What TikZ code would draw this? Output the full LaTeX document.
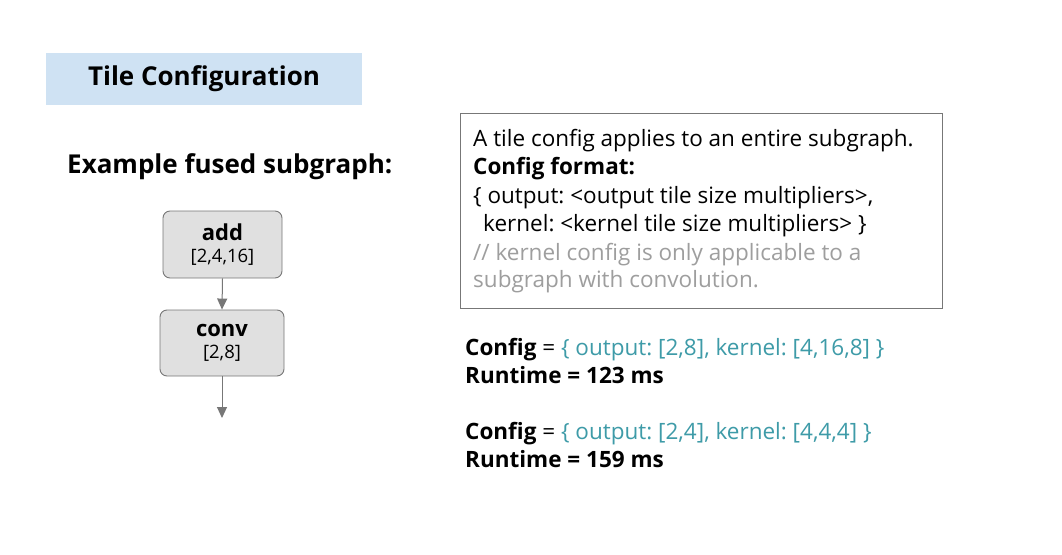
\documentclass[tikz,border=0pt]{standalone}
\usepackage{fontspec}
\setmainfont{Open Sans}[Ligatures=NoCommon]
\usetikzlibrary{arrows.meta}
\definecolor{titlebg}{HTML}{CFE2F3}
\definecolor{nodefill}{HTML}{E0E0E0}
\definecolor{nodeline}{HTML}{777777}
\definecolor{teal}{HTML}{3E9BA8}
\definecolor{softgray}{HTML}{9E9E9E}
\definecolor{boxline}{HTML}{777777}
\frenchspacing
\tikzset{
  opnode/.style={draw=nodeline, fill=nodefill, rounded corners=7pt, line width=0.9pt,
    align=center, inner sep=0pt},
  flow/.style={draw=nodeline, line width=1pt, -{Triangle[width=10pt,length=11pt]}},
  txt/.style={anchor=base west, inner sep=0pt, font=\fontsize{22.5}{27}\selectfont},
}
\begin{document}
\begin{tikzpicture}[x=1pt,y=-1pt]
\useasboundingbox (0,0) rectangle (1062,554);
\fill[white] (0,0) rectangle (1062,554);
% title
\node[fill=titlebg, minimum width=316pt, minimum height=52pt, inner sep=0pt,
  font=\fontsize{26}{30}\selectfont\bfseries] (title) at (204,79) {Tile Configuration};
% subtitle
\node[anchor=base west, inner sep=0pt, font=\fontsize{26}{30}\selectfont\bfseries]
  (sub) at (67,173) {Example fused subgraph:};
% nodes
\node[opnode, minimum width=119pt, minimum height=67pt] (add) at (222.5,244.5)
  {{\fontsize{22}{24}\selectfont\bfseries add}\\[8pt]{\fontsize{18.5}{21}\selectfont [2,4,16]}};
\node[opnode, minimum width=124pt, minimum height=66pt] (conv) at (222,343)
  {{\fontsize{22}{24}\selectfont\bfseries conv}\\[8pt]{\fontsize{18.5}{21}\selectfont [2,8]}};
\coordinate (out) at (222,418);
\draw[flow] (add.south) -- (conv.north);
\draw[flow] (conv.south) -- (out);
% info box
\draw[boxline, line width=1pt] (460,113) rectangle (942,308);
\node[txt] (l1) at (473,146) {A tile config applies to an entire subgraph.};
\node[txt, font=\fontsize{22.5}{27}\selectfont\bfseries] (l2) at (473,174) {Config format:};
\node[txt] (l3) at (473,203) {\{ output: <output tile size multipliers>,};
\node[txt] (l4) at (473,231) {\hspace*{10pt}kernel: <kernel tile size multipliers> \}};
\node[txt, text=softgray] (l5) at (473,260) {// kernel config is only applicable to a};
\node[txt, text=softgray] (l6) at (473,287) {subgraph with convolution.};
% configs
\node[txt] (c1) at (465,355) {\textbf{Config} = \textcolor{teal}{\{ output: [2,8], kernel: [4,16,8] \}}};
\node[txt] (r1) at (465,383) {\textbf{Runtime = 123 ms}};
\node[txt] (c2) at (465,439) {\textbf{Config} = \textcolor{teal}{\{ output: [2,4], kernel: [4,4,4] \}}};
\node[txt] (r2) at (465,467) {\textbf{Runtime = 159 ms}};
\end{tikzpicture}
\end{document}
